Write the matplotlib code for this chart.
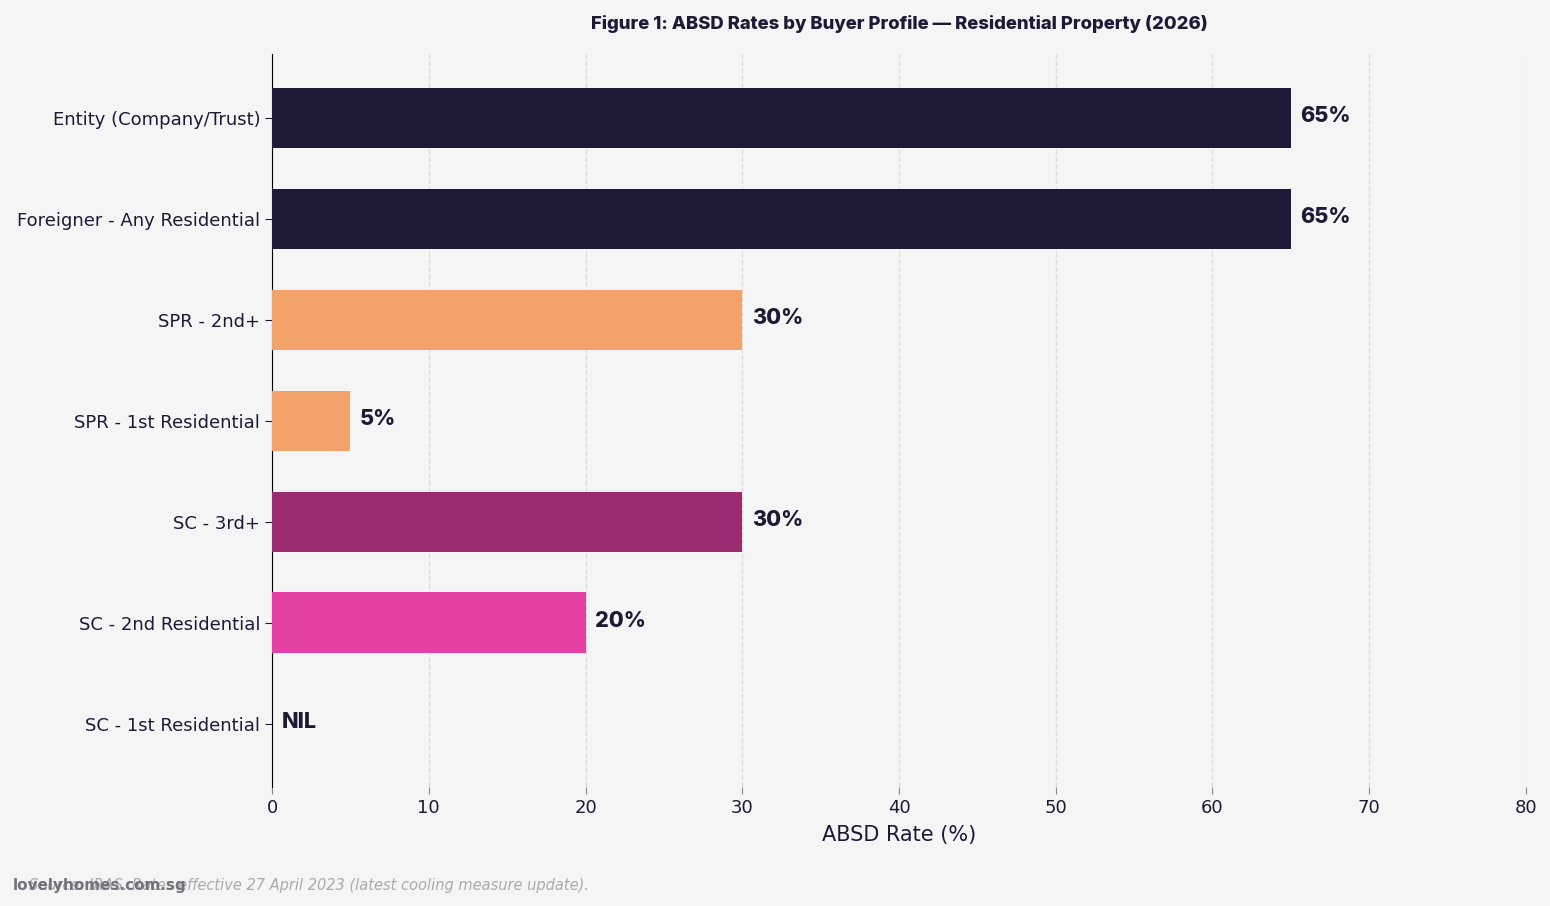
import matplotlib
matplotlib.use("Agg")
import matplotlib.pyplot as plt

BG = "#f5f5f5"
INK = "#1e1a36"

# data (bottom -> top)
profiles = ["SC - 1st Residential", "SC - 2nd Residential", "SC - 3rd+",
            "SPR - 1st Residential", "SPR - 2nd+",
            "Foreigner - Any Residential", "Entity (Company/Trust)"]
rates = [0, 20, 30, 5, 30, 65, 65]
rate_labels = ["NIL", "20%", "30%", "5%", "30%", "65%", "65%"]
bar_colors = ["#e540a4", "#e540a4", "#9b2c72", "#f4a26b", "#f4a26b", "#1e1a36", "#1e1a36"]

fig, ax = plt.subplots(figsize=(15.5, 9.06), dpi=100)
fig.patch.set_facecolor(BG)
ax.set_facecolor(BG)
fig.subplots_adjust(left=0.1755, right=0.9845, top=0.94, bottom=0.131)

ax.barh(profiles, rates, height=0.6, color=bar_colors, zorder=3)

for i, (v, lab) in enumerate(zip(rates, rate_labels)):
    ax.annotate(lab, (v, i + 0.02), xytext=(7, 0), textcoords="offset points",
                va="center", ha="left", fontsize=15.5, fontweight="heavy",
                color=INK, family=["Inter", "DejaVu Sans"], zorder=4)

ax.set_xlim(0, 80)
ax.set_xticks(range(0, 81, 10))
ax.grid(axis="x", linestyle="--", color="#dcdcdc", linewidth=1, zorder=0)
ax.set_axisbelow(True)
for s in ["top", "right", "bottom"]:
    ax.spines[s].set_visible(False)
ax.spines["left"].set_color("black")
ax.tick_params(axis="both", labelsize=13, colors=INK, length=5)
ax.tick_params(axis="x", color="#888888")
ax.set_xlabel("ABSD Rate (%)", fontsize=15, color=INK, labelpad=6)

ax.set_title("Figure 1: ABSD Rates by Buyer Profile \u2014 Residential Property (2026)",
             fontsize=13.3, fontweight="heavy", color=INK, pad=18,
             family=["Inter", "DejaVu Sans"])

fig.text(0.019, 0.014, "Source: IRAS. Rates effective 27 April 2023 (latest cooling measure update).",
         fontsize=10.5, style="italic", color="#aaaaaa", ha="left", va="bottom")
fig.text(0.008, 0.014, "lovelyhomes.com.sg", fontsize=11, fontweight="bold",
         color="#6e6b78", ha="left", va="bottom", alpha=0.95)

fig.savefig("out.png", dpi=100, facecolor=BG)
